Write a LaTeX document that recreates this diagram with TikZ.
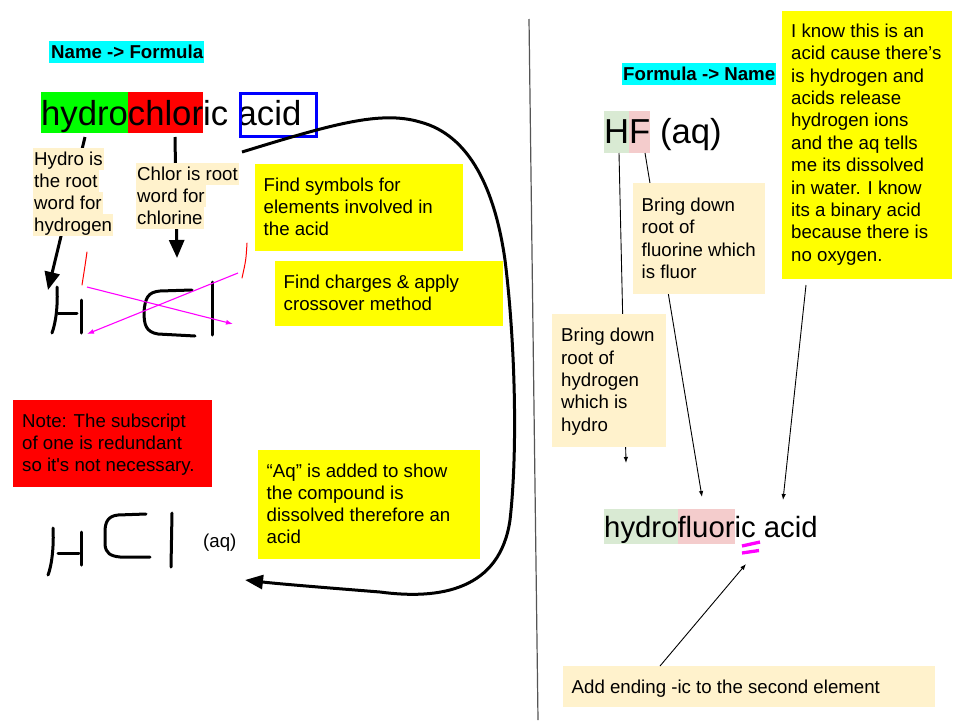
\documentclass[tikz,border=0pt]{standalone}
\usepackage{fontspec}
\setmainfont{Liberation Sans}[Ligatures=TeXOff]
\usetikzlibrary{arrows.meta}
\definecolor{beige}{HTML}{FFF2CC}
\definecolor{ylw}{HTML}{FFFF00}
\definecolor{cyn}{HTML}{00FFFF}
\definecolor{grn}{HTML}{00FF00}
\definecolor{rd}{HTML}{FF0000}
\definecolor{blu}{HTML}{0000FF}
\definecolor{lgrn}{HTML}{D9EAD3}
\definecolor{lred}{HTML}{F4CCCC}
\definecolor{mag}{HTML}{FF00FF}
\definecolor{divgray}{HTML}{555555}
\newcommand\fs{\fontsize{18.67pt}{22pt}\selectfont}
\newcommand\fsr{\fontsize{18.67pt}{22.4pt}\selectfont}
\newcommand\hlx[4]{{\setlength\fboxsep{0pt}\colorbox{#1}{\rule[-#2]{0pt}{#3}#4}}}
\newcommand\hlb[1]{\hlx{beige}{5pt}{22pt}{\hspace{1pt}#1\hspace{1pt}}}
\newcommand\fl{\rule{0pt}{15pt}}
\begin{document}
\begin{tikzpicture}[x=1pt,y=-1pt,
  panel/.style={anchor=north west, inner sep=0pt, outer sep=0pt},
  txt/.style={anchor=north west, inner sep=0pt, align=left, font=\fs},
  txtr/.style={anchor=north west, inner sep=0pt, align=left, font=\fsr},
  hltxt/.style={anchor=north west, inner sep=0pt, align=left, font=\fs},
  hand/.style={line width=3pt, line cap=round, line join=round, black},
  thickarrow/.style={line width=3pt, -{Triangle[length=18pt,width=15pt]}},
  thinarrow/.style={line width=0.9pt, -{Latex[length=6pt,width=4.5pt]}},
  magarrow/.style={mag, line width=1.1pt, -{Latex[length=7pt,width=5pt]}},
  redstroke/.style={rd, line width=1pt, line cap=round},
  bigfont/.style={font=\fontsize{34.67pt}{40pt}\selectfont},
]
\useasboundingbox (0,0) rectangle (960,720);
\fill[white] (0,0) rectangle (960,720);

% divider
\coordinate (dtop) at (529,19);
\coordinate (dbot) at (538,720);
\draw[divgray, line width=1.2pt] (dtop) -- (dbot);

% ---------- left side ----------
\node[anchor=base west, inner sep=0pt, font=\fs\bfseries] (t1) at (49,58)
  {\hlx{cyn}{5pt}{22pt}{\hspace{2pt}Name -> Formula\hspace{1pt}}};

\node[anchor=base west, inner sep=0pt, bigfont] (hcl) at (41,125)
  {\hlx{grn}{8pt}{41pt}{hydro}\hlx{rd}{8pt}{41pt}{chlor}ic acid};
\node[draw=blu, line width=3pt, minimum width=76pt, minimum height=43pt, inner sep=0pt] (acidbox) at (278,114.5) {};

% arrows behind the highlight notes
\coordinate (hy1) at (85,137);
\coordinate (hy2) at (48,290);
\coordinate (ch1) at (175,137);
\coordinate (ch2) at (177,258);
\draw[thickarrow] (hy1) -- (hy2);
\draw[thickarrow] (ch1) -- (ch2);

\node[hltxt] (hydronote) at (33,148) {\hlb{Hydro is}\\\hlb{the root}\\\hlb{word for}\\\hlb{hydrogen}};
\node[hltxt] (chlornote) at (136,163) {\hlb{Chlor is root}\\\hlb{word for}\\\hlb{chlorine}};

% yellow notes
\node[panel, fill=ylw, minimum width=208pt, minimum height=87pt] (symbox) at (255,164) {};
\node[txt] (symtxt) at ([shift={(8.5,12)}]symbox.north west) {\fl Find symbols for\\elements involved in\\the acid};
\node[panel, fill=ylw, minimum width=228pt, minimum height=65pt] (chgbox) at (275,261) {};
\node[txt] (chgtxt) at ([shift={(8.5,12)}]chgbox.north west) {\fl Find charges \& apply\\crossover method};
\node[panel, fill=ylw, minimum width=222pt, minimum height=109pt] (aqbox) at (258,450) {};
\node[txt] (aqtxt) at ([shift={(8.5,12)}]aqbox.north west) {\fl “Aq” is added to show\\the compound is\\dissolved therefore an\\acid};
\node[panel, fill=rd, minimum width=199pt, minimum height=87pt] (notebox) at (13,400) {};
\node[txt] (notetxt) at ([shift={(9,12)}]notebox.north west) {\fl Note: The subscript\\of one is redundant\\so it's not necessary.};

% handwritten HCl (first)
\draw[hand] (57,287) .. controls (58,305) and (56,322) .. (52,333);
\draw[hand] (58,313) -- (77,313);
\draw[hand] (81,300) -- (81,333);
\draw[hand] (192,290) -- (160,291) .. controls (148,292) and (145,298) .. (144,312)
  .. controls (144,325) and (146,332) .. (158,334) -- (195,336);
\draw[hand] (212,282) -- (212,335);

% red strokes
\draw[redstroke] (87,252) .. controls (85,266) .. (82,285);
\draw[redstroke] (247,243) .. controls (246,260) .. (242,278);

% crossover arrows
\coordinate (m1a) at (87,287);
\coordinate (m1b) at (233,324);
\coordinate (m2a) at (238,273);
\coordinate (m2b) at (87,334);
\draw[magarrow] (m1a) -- (m1b);
\draw[magarrow] (m2a) -- (m2b);

% handwritten HCl (second)
\draw[hand] (53,528) .. controls (54,545) and (52,565) .. (48,575);
\draw[hand] (58,553) -- (79,553);
\draw[hand] (81,532) -- (81,565);
\draw[hand] (146,514) -- (118,515) .. controls (108,516) and (105,522) .. (105,532)
  -- (105,545) .. controls (106,553) and (110,556) .. (120,557) -- (150,557);
\draw[hand] (172,513) -- (171,567);
\node[anchor=base west, inner sep=0pt, font=\fs] (aq) at (203,547) {(aq)};

% big curved arrow
\coordinate (cstart) at (242,152);
\coordinate (cend) at (245,580);
\draw[line width=3pt, -{Triangle[length=18pt,width=14pt]}] (cstart)
  .. controls (330,125) and (380,110) .. (420,122)
  .. controls (470,135) and (495,190) .. (505,260)
  .. controls (515,340) and (518,450) .. (510,520)
  .. controls (500,590) and (440,600) .. (380,592)
  .. controls (330,588) and (280,584) .. (cend);

% ---------- right side ----------
\node[anchor=base west, inner sep=0pt, font=\fs\bfseries] (t2) at (622,80)
  {\hlx{cyn}{5pt}{22pt}{\hspace{1pt}Formula -> Name\hspace{1pt}}};
\node[anchor=base west, inner sep=0pt, bigfont] (hf) at (604,143)
  {\hlx{lgrn}{10pt}{42pt}{H}\hlx{lred}{10pt}{42pt}{F} (aq)};

\coordinate (a1s) at (619,153);
\coordinate (a1e) at (626,463);
\coordinate (a2s) at (645,153);
\coordinate (a2e) at (702,497);
\coordinate (a3s) at (806,285);
\coordinate (a3e) at (783,500);
\draw[thinarrow] (a1s) -- (a1e);
\draw[thinarrow] (a2s) -- (a2e);
\draw[thinarrow] (a3s) -- (a3e);

\node[panel, fill=ylw, minimum width=170pt, minimum height=268pt] (bigbox) at (782,11) {};
\node[txtr] (bigtxt) at ([shift={(9,11)}]bigbox.north west) {\fl I know this is an\\acid cause there’s\\is hydrogen and\\acids release\\hydrogen ions\\and the aq tells\\me its dissolved\\in water. I know\\its a binary acid\\because there is\\no oxygen.};
\node[panel, fill=beige, minimum width=132pt, minimum height=111pt] (fluorbox) at (633,183) {};
\node[txtr] (fluortxt) at ([shift={(8.5,13)}]fluorbox.north west) {\fl Bring down\\root of\\fluorine which\\is fluor};
\node[panel, fill=beige, minimum width=114pt, minimum height=133pt] (hydrobox) at (552,314) {};
\node[txtr] (hydrotxt) at ([shift={(9,12.5)}]hydrobox.north west) {\fl Bring down\\root of\\hydrogen\\which is\\hydro};

\node[anchor=base west, inner sep=0pt, font=\fontsize{29.33pt}{35pt}\selectfont] (hfa) at (604,537)
  {\hlx{lgrn}{6.5pt}{35pt}{hydro}\hlx{lred}{6.5pt}{35pt}{fluor}ic acid};
\coordinate (eq1a) at (742,546);
\coordinate (eq1b) at (760,542);
\coordinate (eq2a) at (742,553);
\coordinate (eq2b) at (759,550.5);
\draw[mag, line width=3.3pt] (eq1a) -- (eq1b);
\draw[mag, line width=3.3pt] (eq2a) -- (eq2b);

\node[panel, fill=beige, minimum width=372pt, minimum height=41pt] (endbox) at (563,666) {};
\node[txt] (endtxt) at ([shift={(8.5,12)}]endbox.north west) {\fl Add ending -ic to the second element};
\coordinate (a4s) at (660,666);
\coordinate (a4e) at (746,564);
\draw[thinarrow] (a4s) -- (a4e);
\end{tikzpicture}
\end{document}
